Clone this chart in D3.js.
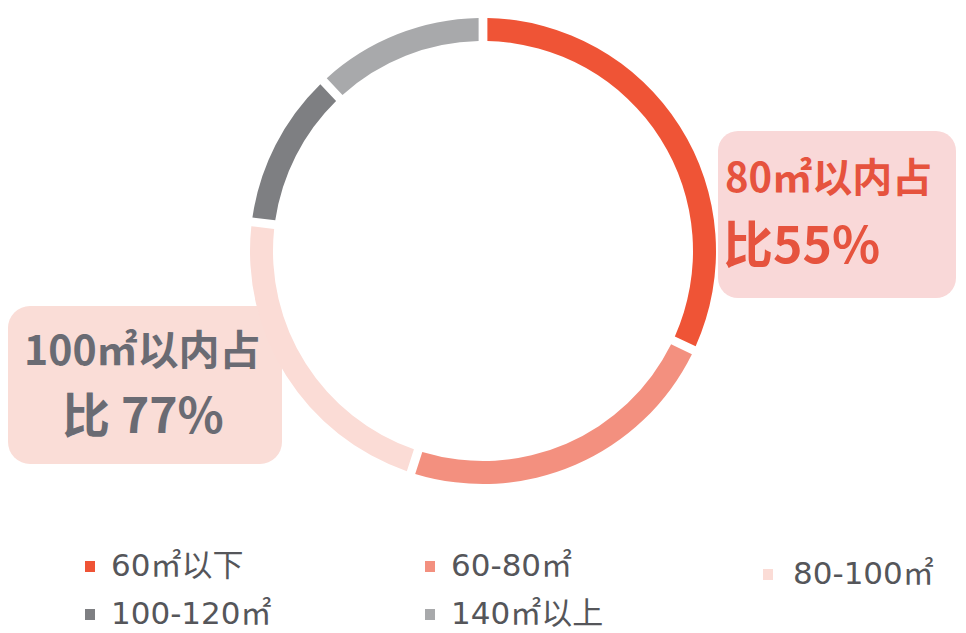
<!DOCTYPE html>
<html>
<head>
<meta charset="utf-8">
<script src="https://cdn.jsdelivr.net/npm/d3@7"></script>
<style>
  html, body { margin: 0; padding: 0; background: #ffffff; }
  svg { display: block; font-family: "Noto Sans CJK SC", "Noto Sans", sans-serif; }
</style>
</head>
<body>
<svg id="chart" width="966" height="633"></svg>
<script>
// Unit-size bands and their share of supply (%)
const categories = ["60㎡以下", "60-80㎡", "80-100㎡", "100-120㎡", "140㎡以上"];
const shares = [32, 23, 22, 11, 12];
const colors = ["#EF5436", "#F3907F", "#FBDCD6", "#7E7F82", "#A8A9AB"];

// Callout texts
const calloutRight = ["80㎡以内占", "比55%"];
const calloutLeft = ["100㎡以内占", "比 77%"];

const svg = d3.select("#chart");
const cx = 483, cy = 251;
const outerR = 233, innerR = 210;

// Callout boxes sit behind the ring
svg.append("rect")
  .attr("x", 718).attr("y", 131).attr("width", 238).attr("height", 167)
  .attr("rx", 20).attr("fill", "#F9D8D8");
svg.append("rect")
  .attr("x", 8).attr("y", 306).attr("width", 274).attr("height", 158)
  .attr("rx", 22).attr("fill", "#FADDD7");

// Donut ring, clockwise from 12 o'clock
const pie = d3.pie().sort(null).value(d => d.value);
const arc = d3.arc().innerRadius(innerR).outerRadius(outerR).padAngle(0.028);
const data = categories.map((c, i) => ({ name: c, value: shares[i], color: colors[i] }));

svg.append("g")
  .attr("transform", `translate(${cx},${cy})`)
  .selectAll("path")
  .data(pie(data))
  .join("path")
  .attr("d", arc)
  .attr("fill", d => d.data.color);

// Callout labels
const rightLbl = svg.append("g").attr("fill", "#E6533E").attr("font-weight", 700);
rightLbl.append("text").attr("x", 725).attr("y", 192).attr("font-size", 40).text(calloutRight[0]);
rightLbl.append("text").attr("x", 723).attr("y", 263).attr("font-size", 50).text(calloutRight[1]);

const leftLbl = svg.append("g").attr("fill", "#6A6B73").attr("font-weight", 700);
leftLbl.append("text").attr("x", 24).attr("y", 365).attr("font-size", 41).text(calloutLeft[0]);
leftLbl.append("text").attr("x", 62).attr("y", 433).attr("font-size", 48).text(calloutLeft[1]);

// Legend: three columns, wrapping to a second row
const legendCols = [85, 425, 763];
const legendRows = [576, 624];
const legend = svg.append("g")
  .selectAll("g")
  .data(data)
  .join("g")
  .attr("transform", (d, i) => `translate(${legendCols[i % 3]},${legendRows[Math.floor(i / 3)] + (i === 2 ? 8 : 0)})`);

legend.append("rect")
  .attr("x", 0).attr("y", -15).attr("width", 10).attr("height", 11)
  .attr("fill", d => d.color);
legend.append("text")
  .attr("x", (d, i) => i === 2 ? 30 : 26)
  .attr("y", 0)
  .attr("font-family", "'DejaVu Sans', 'Noto Sans CJK SC', sans-serif")
  .attr("font-size", 31)
  .attr("fill", "#55565A")
  .text(d => d.name);
</script>
</body>
</html>
